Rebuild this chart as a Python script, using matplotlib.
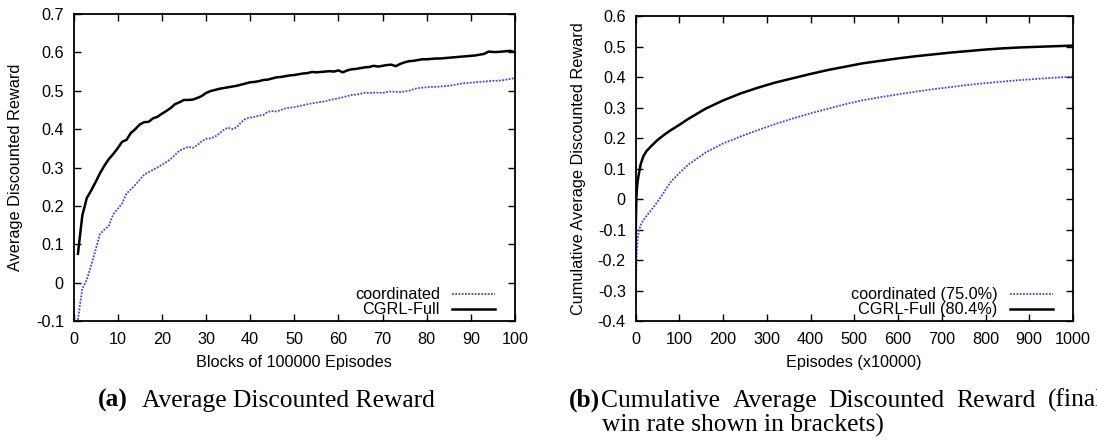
import matplotlib
matplotlib.use("Agg")
import matplotlib.pyplot as plt

plt.rcParams["font.family"] = ["Liberation Sans", "DejaVu Sans"]
plt.rcParams["axes.unicode_minus"] = False

# ---- panel (a): average discounted reward per block ----
blocks = list(range(1, 101))
coord_avg = [
    -0.097, -0.015, 0.007, 0.045, 0.085, 0.127, 0.138, 0.148, 0.178, 0.192,
    0.206, 0.232, 0.243, 0.255, 0.268, 0.281, 0.288, 0.294, 0.300, 0.307,
    0.314, 0.322, 0.333, 0.344, 0.349, 0.354, 0.351, 0.358, 0.368, 0.375,
    0.376, 0.380, 0.388, 0.398, 0.404, 0.400, 0.405, 0.418, 0.427, 0.430,
    0.432, 0.435, 0.437, 0.445, 0.447, 0.446, 0.450, 0.454, 0.456, 0.457,
    0.460, 0.462, 0.465, 0.467, 0.469, 0.471, 0.472, 0.476, 0.478, 0.480,
    0.483, 0.486, 0.489, 0.490, 0.492, 0.495, 0.494, 0.495, 0.495, 0.494,
    0.497, 0.498, 0.497, 0.497, 0.498, 0.500, 0.504, 0.507, 0.508, 0.509,
    0.510, 0.510, 0.511, 0.512, 0.513, 0.515, 0.517, 0.519, 0.520, 0.521,
    0.522, 0.523, 0.524, 0.525, 0.526, 0.526, 0.527, 0.529, 0.531, 0.533,
]
cgrl_avg = [
    0.075, 0.175, 0.220, 0.240, 0.262, 0.285, 0.305, 0.322, 0.335, 0.350,
    0.367, 0.372, 0.390, 0.400, 0.412, 0.418, 0.419, 0.428, 0.432, 0.440,
    0.447, 0.455, 0.465, 0.470, 0.476, 0.476, 0.477, 0.481, 0.486, 0.494,
    0.499, 0.502, 0.505, 0.507, 0.509, 0.511, 0.513, 0.516, 0.519, 0.522,
    0.523, 0.525, 0.528, 0.529, 0.532, 0.535, 0.536, 0.538, 0.540, 0.541,
    0.543, 0.545, 0.546, 0.549, 0.548, 0.549, 0.550, 0.551, 0.550, 0.553,
    0.548, 0.553, 0.556, 0.557, 0.559, 0.561, 0.562, 0.565, 0.563, 0.565,
    0.567, 0.568, 0.564, 0.570, 0.574, 0.577, 0.578, 0.580, 0.582, 0.582,
    0.583, 0.584, 0.584, 0.585, 0.586, 0.587, 0.588, 0.589, 0.590, 0.591,
    0.592, 0.594, 0.596, 0.602, 0.601, 0.601, 0.602, 0.603, 0.604, 0.600,
]

# ---- panel (b): cumulative average discounted reward ----
episodes = [0.5, 1, 2, 3, 5, 8, 12, 18, 25, 35, 50, 65, 80, 100, 120, 160,
            200, 240, 280, 320, 360, 400, 440, 480, 520, 560, 600, 640, 680,
            720, 760, 800, 840, 880, 920, 960, 1000]
coord_cum = [-0.330, -0.280, -0.220, -0.170, -0.130, -0.102, -0.085, -0.069,
             -0.056, -0.038, -0.010, 0.022, 0.055, 0.085, 0.112, 0.152,
             0.182, 0.205, 0.226, 0.246, 0.264, 0.281, 0.296, 0.311, 0.324,
             0.334, 0.343, 0.352, 0.360, 0.367, 0.374, 0.380, 0.385, 0.390,
             0.394, 0.398, 0.401]
cgrl_cum = [-0.140, -0.070, 0.000, 0.030, 0.060, 0.085, 0.115, 0.140,
            0.157, 0.172, 0.193, 0.210, 0.225, 0.243, 0.262, 0.296,
            0.323, 0.346, 0.365, 0.382, 0.396, 0.410, 0.423, 0.434, 0.445,
            0.453, 0.461, 0.468, 0.474, 0.480, 0.485, 0.490, 0.494, 0.497,
            0.499, 0.501, 0.503]

yticks_a = [-0.1, 0.0, 0.1, 0.2, 0.3, 0.4, 0.5, 0.6, 0.7]
ylabels_a = ["-0.1", "0", "0.1", "0.2", "0.3", "0.4", "0.5", "0.6", "0.7"]
xticks_a = list(range(0, 101, 10))
yticks_b = [-0.4, -0.3, -0.2, -0.1, 0.0, 0.1, 0.2, 0.3, 0.4, 0.5, 0.6]
ylabels_b = ["-0.4", "-0.3", "-0.2", "-0.1", "0", "0.1", "0.2", "0.3",
             "0.4", "0.5", "0.6"]
xticks_b = list(range(0, 1001, 100))

labels_a = ["coordinated", "CGRL-Full"]
labels_b = ["coordinated (75.0%)", "CGRL-Full (80.4%)"]

BLUE = "#3f3fff"
FS = 11.7
W, H = 1097, 448

fig = plt.figure(figsize=(W / 100, H / 100), dpi=100)


def px_axes(x0, x1, ytop, ybot):
    return fig.add_axes([x0 / W, (H - ybot) / H, (x1 - x0) / W, (ybot - ytop) / H])


def style(ax, xticks, yticks, ylabels, xlim, ylim):
    ax.set_xlim(*xlim)
    ax.set_ylim(*ylim)
    ax.set_xticks(xticks)
    ax.set_xticklabels([str(t) for t in xticks])
    ax.set_yticks(yticks)
    ax.set_yticklabels(ylabels)
    ax.tick_params(direction="in", length=5, width=1.0, top=True, right=True,
                   labelsize=FS, colors="black")
    ax.tick_params(axis="x", pad=8)
    ax.tick_params(axis="y", pad=7)
    for s in ax.spines.values():
        s.set_linewidth(1.3)


def legend(ax, width_px):
    ax.legend(loc="lower right", markerfirst=False, frameon=False,
              fontsize=FS, handlelength=2.65, handletextpad=0.75,
              labelspacing=0.0, borderpad=0, borderaxespad=0,
              bbox_to_anchor=(1 - 20 / width_px, 0.012))


# (a)
ax1 = px_axes(73.5, 515, 14, 321)
ax1.plot(blocks, coord_avg, color=BLUE, lw=1.3, ls=(0, (1, 0.8)), label=labels_a[0])
ax1.plot(blocks, cgrl_avg, color="black", lw=1.8, label=labels_a[1])
style(ax1, xticks_a, yticks_a, ylabels_a, (0, 100), (-0.1, 0.7))
ax1.set_xlabel("Blocks of 100000 Episodes", fontsize=FS)
ax1.set_ylabel("Average Discounted Reward", fontsize=FS)
ax1.xaxis.set_label_coords(0.5, -(362 - 321) / 307)
ax1.yaxis.set_label_coords(-(73.5 - 16) / 441.5, 0.5)
ax1.xaxis.label.set_va("center")
ax1.yaxis.label.set_va("center")
legend(ax1, 441.5)

# (b)
ax2 = px_axes(635.5, 1073, 16, 321)
ax2.plot(episodes, coord_cum, color=BLUE, lw=1.3, ls=(0, (1, 0.8)), label=labels_b[0])
ax2.plot(episodes, cgrl_cum, color="black", lw=1.8, label=labels_b[1])
style(ax2, xticks_b, yticks_b, ylabels_b, (0, 1000), (-0.4, 0.6))
ax2.set_xlabel("Episodes (x10000)", fontsize=FS)
ax2.set_ylabel("Cumulative Average Discounted Reward", fontsize=FS)
ax2.xaxis.set_label_coords(0.5, -(362 - 321) / 305)
ax2.yaxis.set_label_coords(-(635.5 - 578) / 437.5, 0.5)
ax2.xaxis.label.set_va("center")
ax2.yaxis.label.set_va("center")
legend(ax2, 437.5)

# captions
CAP = dict(family=["Liberation Serif", "DejaVu Serif"], fontsize=18.4, va="baseline")
fig.text(98 / W, (H - 407) / H, "(a)", fontweight="bold", **CAP)
fig.text(141.5 / W, (H - 407) / H, "Average Discounted Reward", **CAP)
fig.text(569 / W, (H - 407) / H, "(b)", fontweight="bold", **CAP)

# first line of (b) is set justified: words spread from x0 to x1 (past the edge)
line1 = ["Cumulative", "Average", "Discounted", "Reward", "(final"]
x0, x1 = 601.5, 1103.0
renderer = fig.canvas.get_renderer()
word_texts = [fig.text(0, (H - 407) / H, w, **CAP) for w in line1]
widths = [t.get_window_extent(renderer).width for t in word_texts]
gap = (x1 - x0 - sum(widths)) / (len(line1) - 1)
xpos = x0
for t, wd in zip(word_texts, widths):
    t.set_x(xpos / W)
    xpos += wd + gap
fig.text(601.5 / W, (H - 432) / H, "win rate shown in brackets)", **CAP)

fig.savefig("out.png", dpi=100)
